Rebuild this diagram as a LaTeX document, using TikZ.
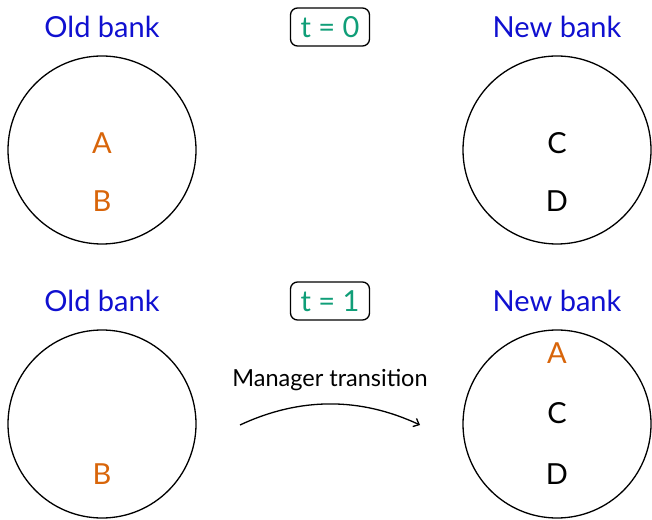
\documentclass[tikz,border=0pt]{standalone}
\usepackage{fontspec}
\setmainfont{Lato}
\usetikzlibrary{arrows.meta}
\definecolor{bankblue}{HTML}{1010D0}
\definecolor{mgrorange}{HTML}{D8650A}
\definecolor{timegreen}{HTML}{109E78}
\tikzset{
  bank/.style={circle, draw, line width=1.3pt, minimum size=188pt, inner sep=0pt},
  title/.style={text=bankblue, font=\fontsize{29}{34}\selectfont},
  mgr/.style={font=\fontsize{29}{34}\selectfont},
  oldmgr/.style={mgr, text=mgrorange},
  timebox/.style={draw, line width=1.3pt, rounded corners=7pt, text=timegreen,
    font=\fontsize{29}{34}\selectfont, minimum width=79pt, minimum height=38pt, inner sep=2pt},
}
\begin{document}
\begin{tikzpicture}[x=1pt, y=1pt]
\useasboundingbox (0,0) rectangle (652,519);
% top row: t = 0
\node[title] (oldT) at (102,492) {Old bank};
\node[title] (newT) at (557,492) {New bank};
\node[timebox] (t0) at (330,492) {t = 0};
\node[bank] (old0) at (102,369) {};
\node[bank] (new0) at (557,369) {};
\node[oldmgr] (a0) at (102,376) {A};
\node[oldmgr] (b0) at (102,318) {B};
\node[mgr] (c0) at (557,376) {C};
\node[mgr] (d0) at (557,318) {D};
% bottom row: t = 1
\node[title] (oldB) at (102,218) {Old bank};
\node[title] (newB) at (557,218) {New bank};
\node[timebox] (t1) at (330,218) {t = 1};
\node[bank] (old1) at (102,95) {};
\node[bank] (new1) at (557,95) {};
\node[oldmgr] (b1) at (102,45) {B};
\node[oldmgr] (a1) at (557,166) {A};
\node[mgr] (c1) at (557,106) {C};
\node[mgr] (d1) at (557,45) {D};
% transition arrow
\coordinate (from) at (240,94);
\coordinate (to) at (420,94);
\draw[line width=1.3pt, -{Straight Barb[length=5pt,width=9pt]}] (from) .. controls (300,122) and (360,122) .. (to);
\node[font=\fontsize{23.5}{28}\selectfont] (lbl) at (330,139) {Manager transition};
\end{tikzpicture}
\end{document}
